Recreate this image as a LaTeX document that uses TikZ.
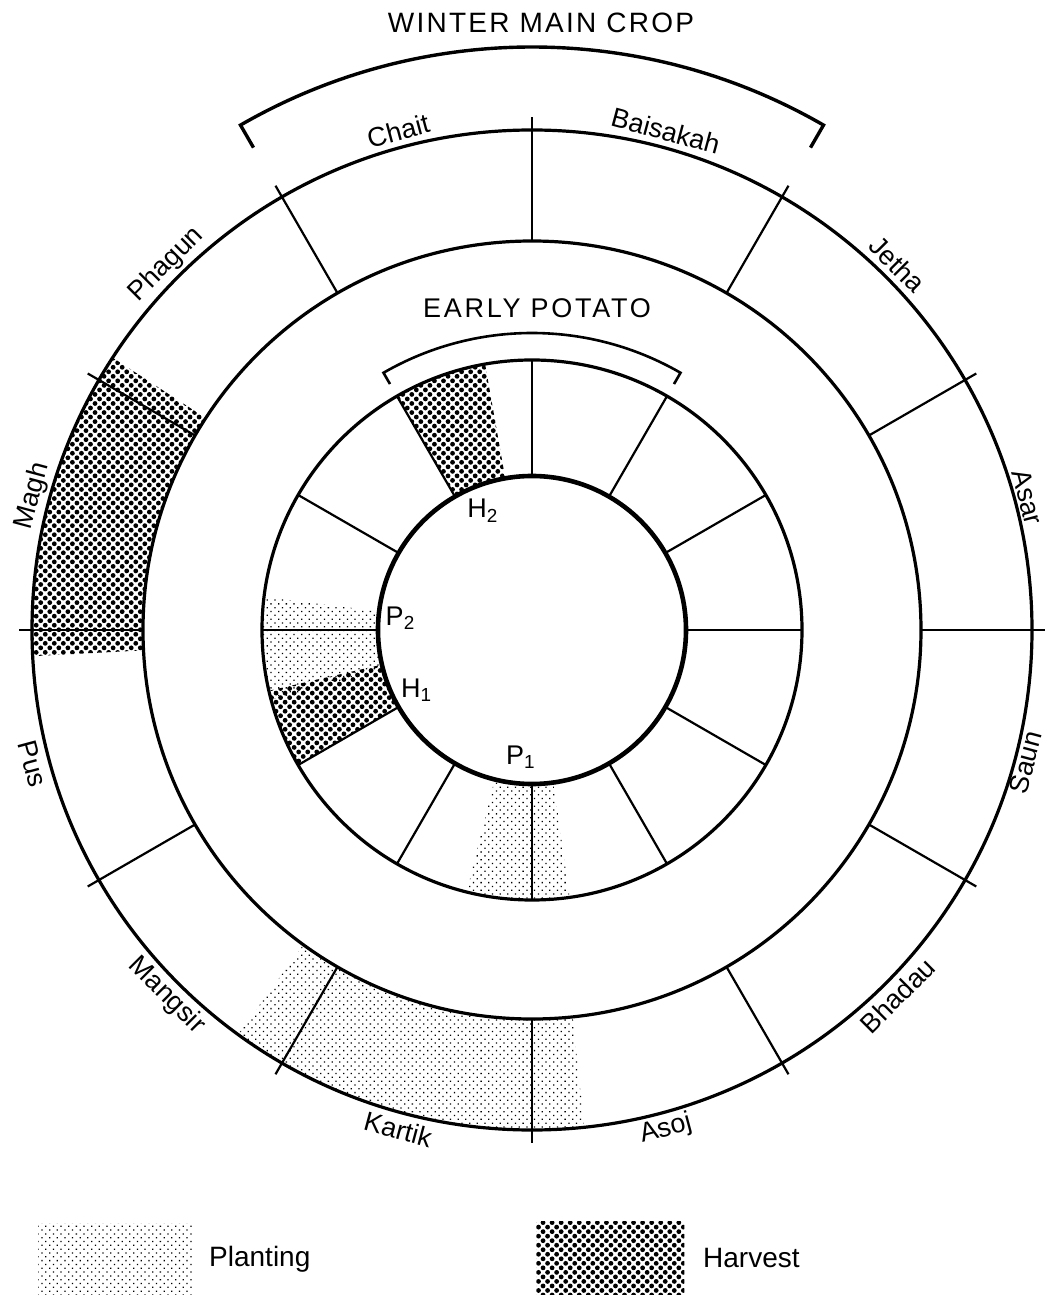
\documentclass[tikz,border=0pt]{standalone}
\usepackage{fontspec}
\setmainfont{Liberation Sans}
\usetikzlibrary{patterns.meta, positioning}

\begin{document}
\begin{tikzpicture}[
    x=0.5pt, y=0.5pt,
    ring/.style={line width=1.6pt},
    core/.style={line width=2.3pt},
    divider/.style={line width=1.1pt},
    bracket/.style={line width=1.7pt},
    plant/.style={pattern={Dots[radius=0.45pt, distance=2.7pt, angle=45]}},
    harv/.style={pattern={Dots[radius=1.2pt, distance=3.2pt, angle=45]}},
    month/.style={font=\fontsize{13.5}{15}\selectfont, inner sep=0pt},
    tag/.style={font=\fontsize{13.5}{15}\selectfont, inner sep=0pt},
    heading/.style={font=\fontsize{14}{16}\selectfont\addfontfeature{LetterSpace=8}, inner sep=0pt}
  ]
  \useasboundingbox (-532,-665) rectangle (512,630);

  % seasons, winter main crop (outer ring)
  \fill[harv] (147:389) arc[start angle=147, end angle=183, radius=389] -- (183:500) arc[start angle=183, end angle=147, radius=500] -- cycle;
  \fill[plant] (234:389) arc[start angle=234, end angle=276, radius=389] -- (276:500) arc[start angle=276, end angle=234, radius=500] -- cycle;
  % seasons, early potato (inner ring)
  \fill[plant] (256:154) arc[start angle=256, end angle=278, radius=154] -- (278:270) arc[start angle=278, end angle=256, radius=270] -- cycle;
  \fill[plant] (173:154) arc[start angle=173, end angle=195, radius=154] -- (195:270) arc[start angle=195, end angle=173, radius=270] -- cycle;
  \fill[harv] (193:154) arc[start angle=193, end angle=210, radius=154] -- (210:270) arc[start angle=210, end angle=193, radius=270] -- cycle;
  \fill[harv] (100:154) arc[start angle=100, end angle=120, radius=154] -- (120:270) arc[start angle=120, end angle=100, radius=270] -- cycle;

  \draw[ring] (0,0) circle[radius=500];
  \draw[ring] (0,0) circle[radius=389];
  \draw[ring] (0,0) circle[radius=270];
  \draw[core] (0,0) circle[radius=154];
  \foreach \a in {0,30,...,330} {
    \draw[divider] (\a:389) -- (\a:513);
    \draw[divider] (\a:154) -- (\a:270);
  }

  \draw[bracket] (120:557) -- (120:583) arc[start angle=120, end angle=60, radius=583] -- (60:557);
  \draw[bracket, line width=1.3pt] (120:284) -- (120:297) arc[start angle=120, end angle=60, radius=297] -- (60:284);

  \node[heading] (winter) at (9,607) {WINTER MAIN CROP};
  \node[heading, font=\fontsize{13.5}{15}\selectfont\addfontfeature{LetterSpace=10}] (early) at (5,322) {EARLY POTATO};

  \node[month, rotate=15] (chait) at (105:517) {Chait};
  \node[month, rotate=-15] (baisakah) at (75:517) {Baisakah};
  \node[month, rotate=-45] (jetha) at (45:517) {Jetha};
  \node[month, rotate=-75] (asar) at (15:513) {Asar};
  \node[month, rotate=75] (saun) at (-15:511) {Saun};
  \node[month, rotate=45] (bhadau) at (-45:517) {Bhadau};
  \node[month, rotate=15] (asoj) at (-75:517) {Asoj};
  \node[month, rotate=-15] (kartik) at (-105:517) {Kartik};
  \node[month, rotate=-45] (mangsir) at (-135:517) {Mangsir};
  \node[month, rotate=-75] (pus) at (-165:517) {Pus};
  \node[month, rotate=75] (magh) at (165:517) {Magh};
  \node[month, rotate=45] (phagun) at (135:517) {Phagun};

  \node[tag] (p1) at (265:128) {P\textsubscript{1}};
  \node[tag] (h1) at (207.5:130) {H\textsubscript{1}};
  \node[tag] (p2) at (175:132) {P\textsubscript{2}};
  \node[tag] (h2) at (112.4:129) {H\textsubscript{2}};

  \node[plant, minimum width=77.5pt, minimum height=36pt, inner sep=0pt, anchor=north west] (plantkey) at (-494,-593) {};
  \node[month, right=7.5pt of plantkey, font=\fontsize{14}{16}\selectfont] (plantlbl) {Planting};
  \node[harv, minimum width=74pt, minimum height=37pt, inner sep=0pt, anchor=north west] (harvkey) at (4,-591) {};
  \node[month, right=9pt of harvkey, font=\fontsize{14}{16}\selectfont] (harvlbl) {Harvest};

\end{tikzpicture}
\end{document}
